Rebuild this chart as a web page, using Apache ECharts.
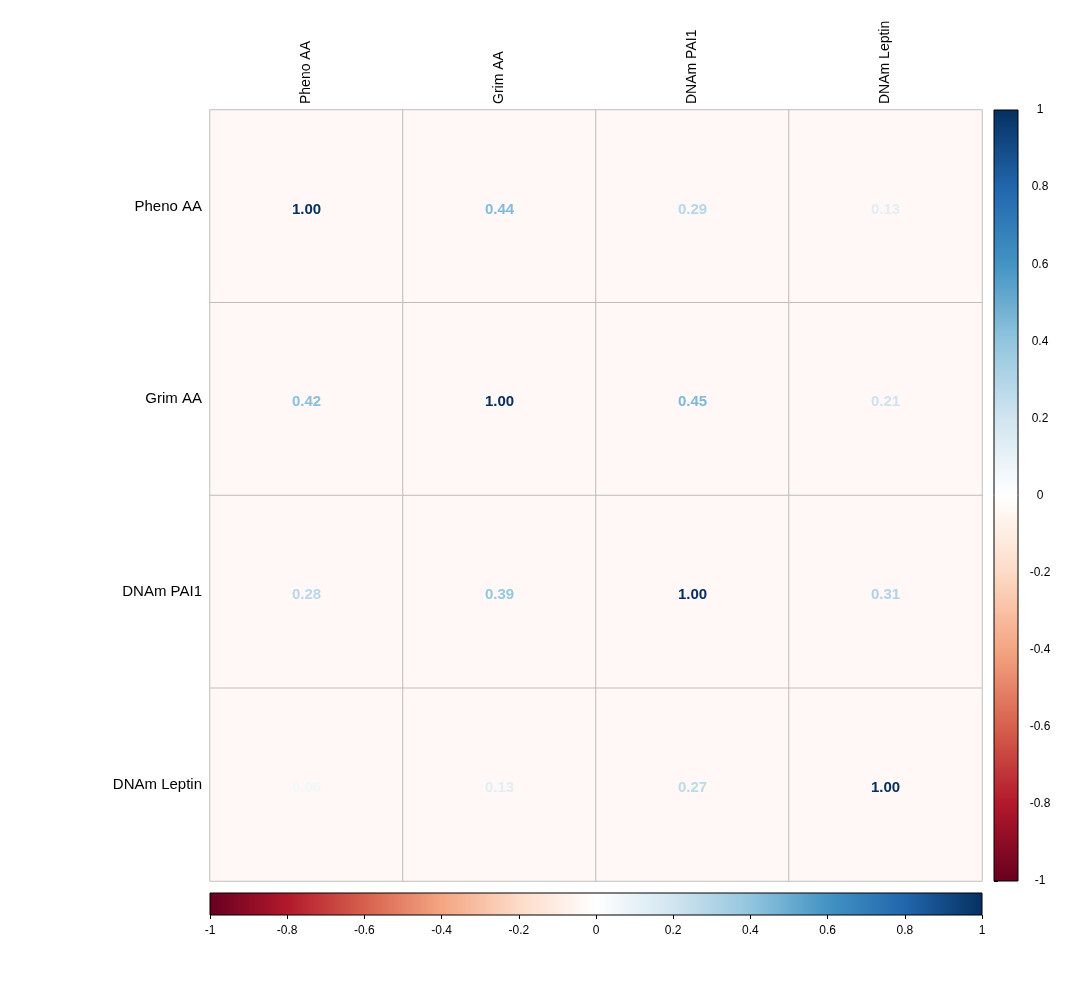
<!DOCTYPE html>
<html>
<head>
<meta charset="utf-8">
<script src="https://cdn.jsdelivr.net/npm/echarts@6/dist/echarts.min.js"></script>
<style>html,body{margin:0;background:#fff}#chart{width:1092px;height:984px}</style>
</head>
<body>
<div id="chart"></div>
<script>
const labels = ['Pheno AA', 'Grim AA', 'DNAm PAI1', 'DNAm Leptin']
// rows top to bottom, columns left to right
const corrRows = [
  [1.00, 0.44, 0.29, 0.13],
  [0.42, 1.00, 0.45, 0.21],
  [0.28, 0.39, 1.00, 0.31],
  [0.06, 0.13, 0.27, 1.00]
]
const palette = ['#67001F', '#B2182B', '#D6604D', '#F4A582', '#FDDBC7', '#FFFFFF',
  '#D1E5F0', '#92C5DE', '#4393C3', '#2166AC', '#053061']

function hex(c) { return [1, 3, 5].map(i => parseInt(c.substr(i, 2), 16)) }
function colorFor(v) {
  const t = (v + 1) / 2 * (palette.length - 1)
  const i = Math.min(Math.floor(t), palette.length - 2)
  const f = t - i
  const a = hex(palette[i]), b = hex(palette[i + 1])
  return 'rgb(' + a.map((x, k) => Math.round(x + (b[k] - x) * f)).join(',') + ')'
}
function gradient(x0, y0, x1, y1) {
  return new echarts.graphic.LinearGradient(x0, y0, x1, y1,
    palette.map((c, i) => ({ offset: i / (palette.length - 1), color: c })))
}

const cells = []
corrRows.forEach((row, r) => row.forEach((v, c) => {
  cells.push({ value: [c, r, v], label: { color: colorFor(v) } })
}))

const chart = echarts.init(document.getElementById('chart'))
chart.setOption({
  animation: false,
  grid: [
    { left: 210, top: 110, width: 772, height: 771 },
    { left: 994, top: 110, width: 24, height: 771 },
    { left: 210, top: 893, width: 772, height: 22 }
  ],
  xAxis: [
    { gridIndex: 0, type: 'category', data: labels, position: 'top',
      axisLine: { show: false }, axisTick: { show: false }, splitLine: { show: false },
      axisLabel: { rotate: -90, color: '#000', fontSize: 14, fontFamily: 'Arial, Liberation Sans', margin: 6 } },
    { gridIndex: 1, type: 'value', min: 0, max: 1, show: false },
    { gridIndex: 2, type: 'value', min: -1, max: 1, interval: 0.2, position: 'bottom',
      axisLine: { show: false }, splitLine: { show: false },
      axisTick: { show: true, length: 4, lineStyle: { color: '#000' } },
      axisLabel: { color: '#000', fontSize: 12, fontFamily: 'Arial, Liberation Sans', margin: 10 } }
  ],
  yAxis: [
    { gridIndex: 0, type: 'category', data: labels, inverse: true,
      axisLine: { show: false }, axisTick: { show: false }, splitLine: { show: false },
      axisLabel: { color: '#000', fontSize: 15, fontFamily: 'Arial, Liberation Sans', margin: 8 } },
    { gridIndex: 1, type: 'value', min: -1, max: 1, interval: 0.2, position: 'right',
      axisLine: { show: false }, splitLine: { show: false },
      axisTick: { show: true, length: 4, lineStyle: { color: '#000' } },
      axisLabel: { color: '#000', fontSize: 12, fontFamily: 'Arial, Liberation Sans', margin: 22, align: 'center' } },
    { gridIndex: 2, type: 'value', min: 0, max: 1, show: false }
  ],
  series: [
    { type: 'heatmap', xAxisIndex: 0, yAxisIndex: 0, data: cells,
      itemStyle: { color: '#FFF8F6', borderColor: '#BEBEBE', borderWidth: 1 },
      label: { show: true, fontSize: 15, fontWeight: 'bold', fontFamily: 'Arial, Liberation Sans',
        offset: [0, 3], formatter: p => p.value[2].toFixed(2) } },
    { type: 'custom', xAxisIndex: 1, yAxisIndex: 1, data: [[0, 1, 1, -1]],
      renderItem: (params, api) => {
        const a = api.coord([api.value(0), api.value(1)])
        const b = api.coord([api.value(2), api.value(3)])
        return { type: 'rect', shape: { x: a[0], y: a[1], width: b[0] - a[0], height: b[1] - a[1] },
          style: { fill: gradient(0, 1, 0, 0), stroke: '#000', lineWidth: 1 } }
      } },
    { type: 'custom', xAxisIndex: 2, yAxisIndex: 2, data: [[-1, 1, 1, 0]],
      renderItem: (params, api) => {
        const a = api.coord([api.value(0), api.value(1)])
        const b = api.coord([api.value(2), api.value(3)])
        return { type: 'rect', shape: { x: a[0], y: a[1], width: b[0] - a[0], height: b[1] - a[1] },
          style: { fill: gradient(0, 0, 1, 0), stroke: '#000', lineWidth: 1 } }
      } }
  ]
})
</script>
</body>
</html>
